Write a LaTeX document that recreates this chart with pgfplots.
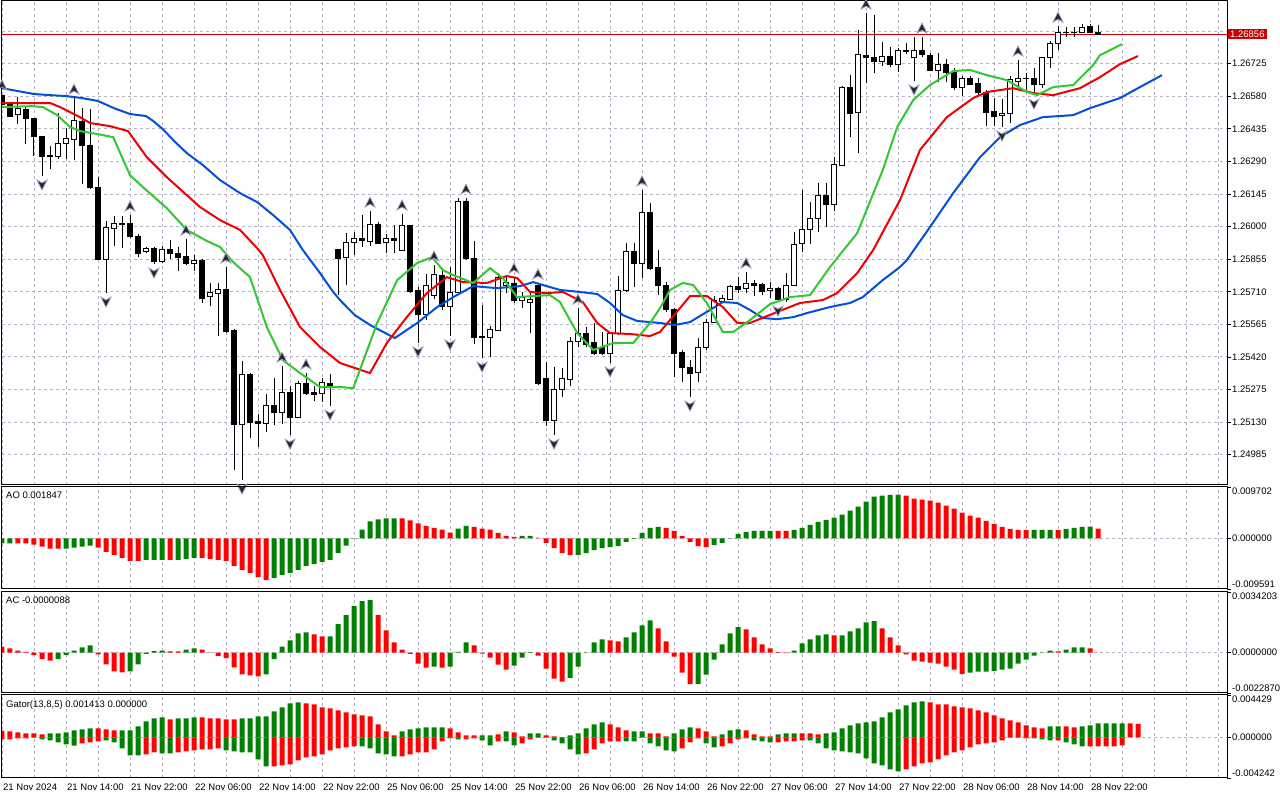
\documentclass[border=0pt]{standalone}
\usepackage{pgfplots}
\usepackage{pgfplotstable}
\pgfplotsset{compat=1.18}
\usepackage{fontspec}
\setmainfont{Liberation Sans}
\definecolor{aogreen}{RGB}{0,128,0}
\definecolor{aored}{RGB}{255,0,0}
\definecolor{jaw}{RGB}{0,80,220}
\definecolor{teeth}{RGB}{240,0,0}
\definecolor{lips}{RGB}{50,200,50}
\definecolor{gridc}{RGB}{188,178,198}
\definecolor{boxred}{RGB}{204,0,0}
\newcommand{\lbl}{\fontsize{9.5}{11}\selectfont}
\pgfdeclareplotmark{fracup}{%
 \pgfpathmoveto{\pgfqpoint{0pt}{5.5pt}}%
 \pgfpathlineto{\pgfqpoint{5pt}{-4.5pt}}%
 \pgfpathlineto{\pgfqpoint{0pt}{-1.5pt}}%
 \pgfpathlineto{\pgfqpoint{-5pt}{-4.5pt}}%
 \pgfpathclose\pgfusepathqfillstroke}
\pgfdeclareplotmark{fracdown}{%
 \pgfpathmoveto{\pgfqpoint{0pt}{-5.5pt}}%
 \pgfpathlineto{\pgfqpoint{5pt}{4.5pt}}%
 \pgfpathlineto{\pgfqpoint{0pt}{1.5pt}}%
 \pgfpathlineto{\pgfqpoint{-5pt}{4.5pt}}%
 \pgfpathclose\pgfusepathqfillstroke}
\pgfplotsset{
 mt/.style={scale only axis, width=1225pt, xmin=0, xmax=153.125,
  axis line style={line width=1pt, black},
  xtick={0,8,...,152}, minor x tick num=1, xmajorgrids, xminorgrids, ymajorgrids,
  major grid style={gridc, dash pattern=on 3pt off 3pt, line width=0.9pt},
  minor grid style={gridc, dash pattern=on 3pt off 3pt, line width=0.9pt},
  minor tick length=0pt, major tick length=4pt, tick align=outside,
  xtick pos=left, ytick pos=right, yticklabel pos=right,
  xtick style={draw=none}, ytick style={black, line width=0.8pt},
  xticklabels={},
  yticklabel style={font=\lbl, anchor=west, inner sep=1pt},
  xticklabel style={font=\lbl, anchor=north west, inner sep=1pt, yshift=-1pt},
  scaled y ticks=false, anchor=south west},
 hist/.style={ybar, bar width=5pt, bar shift=0pt, draw=none, forget plot},
}
\pgfplotstableread{
i o h l c
0 1.26585 1.26590 1.26536 1.26545
1 1.26545 1.26554 1.26487 1.26492
2 1.26501 1.26576 1.26456 1.26527
3 1.26523 1.26532 1.26367 1.26483
4 1.26483 1.26483 1.26314 1.26403
5 1.26403 1.26403 1.26225 1.26314
6 1.26318 1.26358 1.26256 1.26314
7 1.26314 1.26505 1.26300 1.26372
8 1.26372 1.26438 1.26300 1.26394
9 1.26389 1.26572 1.26296 1.26474
10 1.26470 1.26527 1.26189 1.26363
11 1.26363 1.26523 1.26167 1.26176
12 1.26176 1.26220 1.25851 1.25855
13 1.25855 1.26025 1.25704 1.25998
14 1.25993 1.26047 1.25913 1.26016
15 1.26016 1.26047 1.25904 1.26011
16 1.26016 1.26051 1.25949 1.25958
17 1.25958 1.25967 1.25864 1.25882
18 1.25891 1.25909 1.25882 1.25904
19 1.25904 1.25909 1.25833 1.25847
20 1.25847 1.25913 1.25838 1.25900
21 1.25900 1.25940 1.25855 1.25882
22 1.25882 1.25909 1.25802 1.25864
23 1.25869 1.25944 1.25829 1.25838
24 1.25838 1.25873 1.25802 1.25851
25 1.25851 1.25855 1.25660 1.25682
26 1.25691 1.25749 1.25646 1.25709
27 1.25704 1.25749 1.25513 1.25722
28 1.25722 1.25820 1.25526 1.25535
29 1.25540 1.25544 1.24917 1.25121
30 1.25121 1.25402 1.24872 1.25344
31 1.25344 1.25348 1.25059 1.25130
32 1.25135 1.25166 1.25019 1.25126
33 1.25126 1.25255 1.25086 1.25206
34 1.25206 1.25326 1.25117 1.25175
35 1.25175 1.25379 1.25121 1.25264
36 1.25264 1.25290 1.25072 1.25152
37 1.25152 1.25313 1.25148 1.25304
38 1.25304 1.25348 1.25250 1.25259
39 1.25264 1.25290 1.25224 1.25255
40 1.25259 1.25326 1.25219 1.25308
41 1.25304 1.25344 1.25201 1.25295
42 1.25900 1.25900 1.25695 1.25860
43 1.25864 1.25971 1.25740 1.25931
44 1.25931 1.25976 1.25873 1.25949
45 1.25949 1.26051 1.25909 1.25940
46 1.25936 1.26069 1.25913 1.26011
47 1.26011 1.26020 1.25927 1.25927
48 1.25931 1.25967 1.25882 1.25949
49 1.25949 1.26007 1.25882 1.25940
50 1.25896 1.26056 1.25896 1.26007
51 1.26007 1.26007 1.25704 1.25713
52 1.25718 1.25731 1.25482 1.25611
53 1.25611 1.25789 1.25584 1.25740
54 1.25695 1.25829 1.25677 1.25789
55 1.25784 1.25807 1.25629 1.25646
56 1.25646 1.25820 1.25513 1.25709
57 1.25709 1.26127 1.25709 1.26114
58 1.26114 1.26127 1.25851 1.25860
59 1.25860 1.25936 1.25477 1.25508
60 1.25513 1.25651 1.25415 1.25508
61 1.25508 1.25557 1.25419 1.25544
62 1.25540 1.25793 1.25535 1.25775
63 1.25740 1.25784 1.25704 1.25753
64 1.25749 1.25775 1.25660 1.25673
65 1.25673 1.25709 1.25637 1.25686
66 1.25664 1.25709 1.25526 1.25677
67 1.25740 1.25749 1.25295 1.25304
68 1.25326 1.25397 1.25112 1.25139
69 1.25139 1.25375 1.25072 1.25273
70 1.25273 1.25370 1.25241 1.25326
71 1.25321 1.25508 1.25290 1.25491
72 1.25491 1.25637 1.25464 1.25526
73 1.25526 1.25553 1.25464 1.25477
74 1.25486 1.25571 1.25428 1.25437
75 1.25464 1.25531 1.25428 1.25437
76 1.25437 1.25531 1.25393 1.25526
77 1.25526 1.25780 1.25517 1.25718
78 1.25718 1.25927 1.25709 1.25891
79 1.25891 1.25927 1.25731 1.25838
80 1.25838 1.26163 1.25771 1.26065
81 1.26065 1.26105 1.25807 1.25815
82 1.25820 1.25896 1.25695 1.25740
83 1.25740 1.25753 1.25620 1.25633
84 1.25633 1.25637 1.25330 1.25437
85 1.25442 1.25451 1.25308 1.25375
86 1.25375 1.25406 1.25241 1.25348
87 1.25353 1.25504 1.25308 1.25464
88 1.25464 1.25588 1.25451 1.25575
89 1.25575 1.25691 1.25571 1.25673
90 1.25669 1.25695 1.25664 1.25682
91 1.25677 1.25740 1.25673 1.25735
92 1.25735 1.25775 1.25704 1.25722
93 1.25726 1.25798 1.25704 1.25749
94 1.25749 1.25762 1.25691 1.25740
95 1.25744 1.25749 1.25695 1.25713
96 1.25718 1.25753 1.25682 1.25726
97 1.25726 1.25731 1.25664 1.25677
98 1.25677 1.25793 1.25664 1.25740
99 1.25740 1.25976 1.25735 1.25922
100 1.25927 1.26163 1.25887 1.25989
101 1.25989 1.26109 1.25922 1.26038
102 1.26038 1.26194 1.25976 1.26140
103 1.26140 1.26194 1.25998 1.26100
104 1.26100 1.26309 1.26069 1.26278
105 1.26274 1.26625 1.26269 1.26621
106 1.26621 1.26674 1.26398 1.26505
107 1.26510 1.26875 1.26327 1.26768
108 1.26763 1.26950 1.26639 1.26754
109 1.26754 1.26941 1.26683 1.26737
110 1.26737 1.26821 1.26714 1.26759
111 1.26759 1.26799 1.26710 1.26723
112 1.26723 1.26794 1.26688 1.26786
113 1.26786 1.26817 1.26768 1.26781
114 1.26754 1.26843 1.26648 1.26786
115 1.26786 1.26843 1.26754 1.26768
116 1.26763 1.26772 1.26692 1.26697
117 1.26697 1.26772 1.26643 1.26723
118 1.26723 1.26745 1.26643 1.26688
119 1.26688 1.26705 1.26608 1.26621
120 1.26621 1.26670 1.26581 1.26661
121 1.26661 1.26670 1.26630 1.26634
122 1.26639 1.26661 1.26576 1.26599
123 1.26599 1.26608 1.26447 1.26510
124 1.26514 1.26572 1.26447 1.26492
125 1.26496 1.26567 1.26443 1.26505
126 1.26505 1.26670 1.26461 1.26656
127 1.26648 1.26741 1.26621 1.26661
128 1.26661 1.26683 1.26608 1.26659
129 1.26661 1.26705 1.26585 1.26634
130 1.26634 1.26754 1.26616 1.26754
131 1.26754 1.26826 1.26705 1.26817
132 1.26817 1.26892 1.26786 1.26866
133 1.26866 1.26888 1.26843 1.26863
134 1.26862 1.26888 1.26843 1.26866
135 1.26866 1.26901 1.26861 1.26888
136 1.26892 1.26901 1.26861 1.26866
137 1.26866 1.26897 1.26852 1.26856
}\candles
\begin{document}
\begin{tikzpicture}
\fill[white] (0,0) rectangle (1280pt,800pt);
\path[use as bounding box] (0,0) rectangle (1280pt,800pt);
% ---------------- main price panel
\begin{axis}[mt, name=main, at={(2pt,315pt)}, height=484pt,
  ymin=1.24850, ymax=1.27004,
  ytick={1.24985,1.25130,1.25275,1.25420,1.25565,1.25710,1.25855,1.26000,1.26145,1.26290,1.26435,1.26580,1.26725,1.26870},
  yticklabels={1.24985,1.25130,1.25275,1.25420,1.25565,1.25710,1.25855,1.26000,1.26145,1.26290,1.26435,1.26580,1.26725,{}}]
\addplot[boxred, line width=1pt, forget plot] coordinates {(0,1.26856) (153.125,1.26856)};
\pgfplotsforeachungrouped \k in {0,...,137}{%
  \pgfplotstablegetelem{\k}{o}\of\candles\let\vo\pgfplotsretval
  \pgfplotstablegetelem{\k}{h}\of\candles\let\vh\pgfplotsretval
  \pgfplotstablegetelem{\k}{l}\of\candles\let\vl\pgfplotsretval
  \pgfplotstablegetelem{\k}{c}\of\candles\let\vc\pgfplotsretval
  \ifdim\vc pt>\vo pt \def\bodyfill{white}\else\def\bodyfill{black}\fi
  \edef\temp{\noexpand\draw[black, line width=1pt] (axis cs:\k,\vl) -- (axis cs:\k,\vh);
    \noexpand\draw[black, line width=0.9pt, fill=\bodyfill] ([xshift=-2.7pt]axis cs:\k,\vo) rectangle ([xshift=2.7pt]axis cs:\k,\vc);}%
  \temp
}
\addplot[jaw, line width=2pt] coordinates {
(0,1.26616)(2,1.26603)(4,1.26590)(6,1.26585)(8,1.26581)(10,1.26572)(12,1.26559)(14,1.26527)(16,1.26501)(18,1.26492)(18.9,1.26470)(20.1,1.26434)(21.4,1.26385)(23.1,1.26327)(25.1,1.26274)(27.25,1.26207)(29.75,1.26149)(31.9,1.26109)(33.9,1.26051)(36,1.25985)(37.6,1.25896)(39.75,1.25793)(41.4,1.25709)(42.25,1.25673)(44.1,1.25606)(46,1.25562)(49.1,1.25504)(51.9,1.25571)(54.4,1.25642)(56.4,1.25686)(58.9,1.25735)(61.9,1.25726)(63.5,1.25731)(64.75,1.25735)(66.4,1.25753)(67.6,1.25740)(69.75,1.25718)(72.25,1.25709)(74.4,1.25700)(76,1.25660)(77.6,1.25606)(79.4,1.25580)(82.25,1.25571)(84.1,1.25562)(86,1.25575)(88.5,1.25629)(90.1,1.25664)(91.9,1.25660)(93.5,1.25629)(95.1,1.25593)(96.9,1.25588)(98.9,1.25597)(100.6,1.25615)(103.5,1.25642)(106,1.25660)(107.6,1.25686)(110.1,1.25762)(112.25,1.25820)(113.1,1.25851)(116,1.25998)(118.9,1.26149)(122.25,1.26309)(124.75,1.26398)(127.25,1.26452)(130.1,1.26487)(133.9,1.26496)(136,1.26527)(139.75,1.26572)(142.25,1.26621)(145,1.26674)};
\addplot[teeth, line width=2pt] coordinates {
(0,1.26550)(6,1.26550)(7.25,1.26532)(9.75,1.26487)(11,1.26461)(13.5,1.26447)(15.75,1.26425)(18.1,1.26309)(20.6,1.26220)(24.75,1.26087)(27.25,1.26029)(29.75,1.25985)(31.9,1.25904)(32.6,1.25873)(34.75,1.25718)(37.25,1.25553)(39.75,1.25464)(42.25,1.25393)(46,1.25348)(48.1,1.25482)(50.6,1.25597)(53.1,1.25704)(55.6,1.25775)(57.6,1.25753)(60.6,1.25749)(63.1,1.25780)(64.4,1.25771)(66,1.25709)(68.1,1.25704)(70.1,1.25709)(72.6,1.25664)(74.4,1.25571)(76,1.25526)(78.5,1.25522)(81,1.25513)(82.25,1.25531)(83.5,1.25584)(86,1.25691)(88.1,1.25691)(90.1,1.25642)(91.9,1.25571)(93.5,1.25571)(96.9,1.25620)(99.75,1.25660)(102.6,1.25673)(104.4,1.25704)(106.9,1.25793)(108.9,1.25896)(112.25,1.26118)(114.75,1.26341)(118.1,1.26487)(121.4,1.26572)(123.1,1.26599)(126.4,1.26616)(128.9,1.26594)(131.4,1.26585)(134.75,1.26616)(137.25,1.26665)(139.75,1.26723)(142,1.26759)};
\addplot[lips, line width=2pt] coordinates {
(0,1.26532)(3.75,1.26536)(5.1,1.26532)(6.9,1.26496)(8.5,1.26443)(9.75,1.26425)(11.9,1.26412)(13.9,1.26398)(16,1.26229)(17.6,1.26176)(20.6,1.26082)(23.1,1.25985)(25.6,1.25936)(27.25,1.25909)(28.9,1.25842)(31,1.25775)(33.1,1.25553)(35.1,1.25406)(37.25,1.25348)(39.75,1.25286)(42.25,1.25286)(43.9,1.25281)(46.9,1.25571)(49.4,1.25762)(51.9,1.25838)(53.75,1.25864)(55.1,1.25807)(56.4,1.25784)(58.9,1.25749)(61,1.25815)(62.6,1.25771)(64.4,1.25686)(66.4,1.25691)(68.5,1.25695)(69.75,1.25664)(71.9,1.25526)(73.9,1.25451)(76.4,1.25482)(78.9,1.25482)(81,1.25571)(82.25,1.25637)(83.5,1.25718)(85.1,1.25749)(86.4,1.25740)(88.1,1.25660)(90.1,1.25531)(91.4,1.25531)(93.5,1.25584)(96,1.25655)(98.5,1.25686)(101,1.25695)(103.5,1.25820)(106.9,1.25971)(110.1,1.26252)(111.9,1.26443)(113.9,1.26563)(116,1.26630)(118.9,1.26692)(121,1.26697)(123.1,1.26674)(125.6,1.26652)(128.1,1.26599)(129.4,1.26585)(131.4,1.26621)(133.9,1.26630)(136.4,1.26719)(137.25,1.26763)(140,1.26812)};
\addplot[only marks, mark=fracup, mark options={fill=black!85, draw=blue!30!gray!60, line width=0.7pt, yshift=8.5pt}] coordinates {
(0,1.26590)(9,1.26572)(16,1.26051)(23,1.25944)(28,1.25820)(35,1.25379)(38,1.25348)(46,1.26069)(50,1.26056)(54,1.25829)(58,1.26127)(64,1.25775)(67,1.25749)(72,1.25637)(80,1.26163)(93,1.25798)(108,1.26950)(115,1.26843)(127,1.26741)(132,1.26892)};
\addplot[only marks, mark=fracdown, mark options={fill=black!85, draw=blue!30!gray!60, line width=0.7pt, yshift=-8.5pt}] coordinates {
(5,1.26225)(13,1.25704)(19,1.25833)(30,1.24872)(36,1.25072)(41,1.25201)(52,1.25482)(56,1.25513)(60,1.25415)(69,1.25072)(76,1.25393)(86,1.25241)(97,1.25664)(114,1.26648)(125,1.26443)(129,1.26585)};
\coordinate (pl) at (axis cs:153.125,1.26856);
\end{axis}
\node[fill=boxred, text=white, font=\lbl, inner xsep=2pt, inner ysep=1.5pt, anchor=west] at ([xshift=1pt]pl) {1.26856};
% ---------------- AO
\begin{axis}[mt, name=ao, at={(2pt,211pt)}, height=102pt,
  ymin=-0.009591, ymax=0.009702, ytick={0}, yticklabels={0.000000},
  extra y ticks={-0.009591,0.009702}, extra y tick labels={}, extra tick style={grid=none}]
\addplot[hist, fill=aogreen] coordinates {
(0,-0.00096)(1,-0.00096)(8,-0.00197)(9,-0.00178)(10,-0.00159)(11,-0.00140)(18,-0.00408)(19,-0.00408)(20,-0.00408)(22,-0.00408)(23,-0.00389)(24,-0.00369)(34,-0.00752)(35,-0.00694)(36,-0.00656)(37,-0.00599)(38,-0.00522)(39,-0.00484)(40,-0.00446)(41,-0.00408)(42,-0.00274)(43,-0.00140)(44,-0.00006)(45,0.00166)(46,0.00319)(47,0.00357)(48,0.00376)(49,0.00376)(57,0.00185)(58,0.00236)(65,0.00045)(66,0.00045)(72,-0.00319)(73,-0.00280)(74,-0.00223)(75,-0.00185)(76,-0.00166)(77,-0.00147)(78,-0.00070)(79,-0.00013)(80,0.00102)(81,0.00197)(82,0.00217)(89,-0.00127)(90,-0.00089)(91,0.00003)(92,0.00083)(93,0.00121)(94,0.00140)(95,0.00140)(96,0.00140)(99,0.00159)(100,0.00197)(101,0.00255)(102,0.00312)(103,0.00350)(104,0.00389)(105,0.00446)(106,0.00522)(107,0.00599)(108,0.00694)(109,0.00790)(110,0.00809)(111,0.00822)(112,0.00828)(129,0.00159)(130,0.00159)(131,0.00159)(133,0.00178)(134,0.00197)(135,0.00217)(136,0.00219)};
\addplot[hist, fill=aored] coordinates {
(2,-0.00096)(3,-0.00096)(4,-0.00121)(5,-0.00159)(6,-0.00197)(7,-0.00197)(12,-0.00178)(13,-0.00255)(14,-0.00312)(15,-0.00369)(16,-0.00427)(17,-0.00427)(21,-0.00408)(25,-0.00369)(26,-0.00389)(27,-0.00408)(28,-0.00427)(29,-0.00522)(30,-0.00599)(31,-0.00656)(32,-0.00733)(33,-0.00790)(50,0.00376)(51,0.00338)(52,0.00280)(53,0.00236)(54,0.00197)(55,0.00166)(56,0.00108)(59,0.00217)(60,0.00185)(61,0.00166)(62,0.00102)(63,0.00045)(64,0.00025)(67,0.00006)(68,-0.00089)(69,-0.00185)(70,-0.00280)(71,-0.00319)(83,0.00197)(84,0.00140)(85,0.00045)(86,-0.00070)(87,-0.00147)(88,-0.00166)(97,0.00140)(98,0.00140)(113,0.00809)(114,0.00752)(115,0.00733)(116,0.00713)(117,0.00675)(118,0.00618)(119,0.00561)(120,0.00484)(121,0.00427)(122,0.00389)(123,0.00331)(124,0.00274)(125,0.00217)(126,0.00178)(127,0.00159)(128,0.00155)(132,0.00155)(137,0.001847)};
\node[anchor=north west, font=\lbl, inner sep=0pt, xshift=4pt, yshift=-5pt] at (rel axis cs:0,1) {AO 0.001847};
\end{axis}
\node[anchor=north west, font=\lbl, inner sep=0pt] at ([xshift=5pt,yshift=-1pt]ao.north east) {0.009702};
\node[anchor=south west, font=\lbl, inner sep=0pt] at ([xshift=5pt,yshift=1pt]ao.south east) {-0.009591};
% ---------------- AC
\begin{axis}[mt, name=ac, at={(2pt,107pt)}, height=101pt,
  ymin=-0.0022870, ymax=0.0034203, ytick={0}, yticklabels={0.0000000},
  extra y ticks={-0.0022870,0.0034203}, extra y tick labels={}, extra tick style={grid=none}]
\addplot[hist, fill=aogreen] coordinates {
(7,-0.00038)(8,-0.00015)(9,0.00011)(10,0.00029)(11,0.00040)(16,-0.00106)(17,-0.00067)(18,-0.00008)(19,0.00008)(20,0.00011)(23,0.00017)(24,0.00023)(33,-0.00124)(34,-0.00038)(35,0.00034)(36,0.00068)(37,0.00108)(38,0.00114)(41,0.00091)(42,0.00160)(43,0.00211)(44,0.00262)(45,0.00291)(46,0.00296)(54,-0.00080)(56,-0.00080)(57,0.00004)(58,0.00057)(64,-0.00074)(65,-0.00029)(66,0.00002)(71,-0.00143)(72,-0.00080)(73,0.00001)(74,0.00057)(75,0.00074)(78,0.00086)(79,0.00114)(80,0.00154)(81,0.00182)(87,-0.00177)(88,-0.00125)(89,-0.00040)(90,0.00046)(91,0.00108)(92,0.00143)(99,0.00011)(100,0.00051)(101,0.00074)(102,0.00097)(103,0.00103)(105,0.00097)(106,0.00120)(107,0.00137)(108,0.00171)(109,0.00177)(121,-0.00114)(122,-0.00108)(123,-0.00108)(124,-0.00103)(125,-0.00097)(126,-0.00091)(127,-0.00063)(128,-0.00040)(129,-0.00017)(130,-0.00002)(131,0.00011)(133,0.00017)(134,0.00029)(135,0.00029)};
\addplot[hist, fill=aored] coordinates {
(0,0.00034)(1,0.00023)(2,0.00011)(3,0.00004)(4,-0.00015)(5,-0.00038)(6,-0.00046)(12,-0.00011)(13,-0.00067)(14,-0.00106)(15,-0.00112)(21,0.00006)(22,0.00006)(25,0.00017)(26,-0.00002)(27,-0.00021)(28,-0.00032)(29,-0.00084)(30,-0.00124)(31,-0.00129)(32,-0.00135)(39,0.00103)(40,0.00091)(47,0.00211)(48,0.00125)(49,0.00057)(50,0.00017)(51,-0.00008)(52,-0.00063)(53,-0.00086)(55,-0.00086)(59,0.00040)(60,-0.00006)(61,-0.00029)(62,-0.00068)(63,-0.00097)(67,-0.00017)(68,-0.00091)(69,-0.00148)(70,-0.00165)(76,0.00068)(77,0.00063)(82,0.00137)(83,0.00063)(84,-0.00023)(85,-0.00114)(86,-0.00177)(93,0.00131)(94,0.00086)(95,0.00046)(96,0.00023)(97,0.00002)(98,-0.00004)(104,0.00097)(110,0.00137)(111,0.00086)(112,0.00040)(113,-0.00010)(114,-0.00046)(115,-0.00051)(116,-0.00057)(117,-0.00063)(118,-0.00080)(119,-0.00097)(120,-0.00120)(132,0.00006)(136,0.00023)(137,-0.0000088)};
\node[anchor=north west, font=\lbl, inner sep=0pt, xshift=4pt, yshift=-5pt] at (rel axis cs:0,1) {AC -0.0000088};
\end{axis}
\node[anchor=north west, font=\lbl, inner sep=0pt] at ([xshift=5pt,yshift=-1pt]ac.north east) {0.0034203};
\node[anchor=south west, font=\lbl, inner sep=0pt] at ([xshift=5pt,yshift=1pt]ac.south east) {-0.0022870};
% ---------------- Gator
\begin{axis}[mt, name=gator, at={(2pt,22pt)}, height=83pt,
  ymin=-0.004242, ymax=0.004429, ytick={0}, yticklabels={0.000000},
  extra y ticks={-0.004242,0.004429}, extra y tick labels={}, extra tick style={grid=none},
  xtick style={black, line width=0.8pt},
  xticklabels={21 Nov 2024,21 Nov 14:00,21 Nov 22:00,22 Nov 06:00,22 Nov 14:00,22 Nov 22:00,25 Nov 06:00,25 Nov 14:00,25 Nov 22:00,26 Nov 06:00,26 Nov 14:00,26 Nov 22:00,27 Nov 06:00,27 Nov 14:00,27 Nov 22:00,28 Nov 06:00,28 Nov 14:00,28 Nov 22:00,{},{}}]
\addplot[hist, fill=aogreen] coordinates {
(6,0.00042)(7,0.00042)(8,0.00052)(9,0.00073)(10,0.00084)(11,0.00094)(15,0.00073)(16,0.00073)(17,0.00115)(18,0.00167)(19,0.00198)(20,0.00209)(22,0.00198)(23,0.00198)(24,0.00209)(30,0.00198)(31,0.00198)(32,0.00219)(33,0.00219)(34,0.00271)(35,0.00313)(36,0.00355)(37,0.00365)(50,0.00063)(51,0.00084)(52,0.00094)(53,0.00104)(54,0.00104)(55,0.00104)(60,0.00021)(61,0.00021)(63,0.00063)(66,0.00042)(67,0.00042)(70,0.00003)(71,0.00021)(72,0.00042)(73,0.00094)(74,0.00136)(75,0.00157)(79,0.00063)(80,0.00063)(84,0.00042)(85,0.00084)(86,0.00104)(90,0.00031)(91,0.00073)(92,0.00084)(97,0.00031)(98,0.00042)(99,0.00042)(103,0.00042)(104,0.00052)(105,0.00094)(106,0.00125)(107,0.00146)(108,0.00157)(109,0.00167)(110,0.00209)(111,0.00261)(112,0.00292)(113,0.00334)(114,0.00365)(115,0.00376)(131,0.00115)(132,0.00115)(135,0.00115)(136,0.00125)(137,0.00146)(138,0.00146)(139,0.00146)(140,0.00146)};
\addplot[hist, fill=aored] coordinates {
(0,0.00070)(1,0.00063)(2,0.00052)(3,0.00042)(4,0.00042)(5,0.00031)(12,0.00094)(13,0.00084)(14,0.00073)(21,0.00188)(25,0.00209)(26,0.00198)(27,0.00198)(28,0.00188)(29,0.00188)(38,0.00355)(39,0.00345)(40,0.00313)(41,0.00303)(42,0.00282)(43,0.00261)(44,0.00240)(45,0.00230)(46,0.00219)(47,0.00136)(48,0.00063)(49,0.00021)(56,0.00094)(57,0.00052)(58,0.00021)(59,0.00021)(62,0.00031)(64,0.00052)(65,0.00010)(68,0.00021)(69,0.00010)(76,0.00136)(77,0.00104)(78,0.00073)(81,0.00042)(82,0.00042)(83,0.00010)(87,0.00094)(88,0.00063)(89,0.00010)(93,0.00073)(94,0.00031)(95,0.00010)(96,0.00010)(100,0.00042)(101,0.00042)(102,0.00031)(116,0.00365)(117,0.00345)(118,0.00345)(119,0.00324)(120,0.00313)(121,0.00303)(122,0.00282)(123,0.00261)(124,0.00230)(125,0.00198)(126,0.00177)(127,0.00157)(128,0.00125)(129,0.00104)(130,0.00094)(133,0.00115)(134,0.00104)(141,0.00146)(142,0.001413)};
\addplot[hist, fill=aogreen] coordinates {
(5,-0.00021)(6,-0.00031)(7,-0.00052)(8,-0.00073)(9,-0.00087)(13,-0.00031)(14,-0.00052)(15,-0.00115)(16,-0.00188)(17,-0.00188)(20,-0.00167)(21,-0.00167)(28,-0.00136)(29,-0.00146)(30,-0.00157)(31,-0.00157)(32,-0.00230)(33,-0.00303)(45,-0.00094)(46,-0.00115)(47,-0.00167)(48,-0.00177)(49,-0.00198)(56,-0.00010)(57,-0.00021)(60,-0.00031)(61,-0.00084)(63,-0.00042)(64,-0.00084)(67,-0.00003)(69,-0.00031)(70,-0.00063)(71,-0.00125)(72,-0.00177)(78,-0.00042)(79,-0.00042)(81,-0.00063)(82,-0.00094)(83,-0.00136)(84,-0.00146)(88,-0.00063)(89,-0.00104)(93,-0.00010)(94,-0.00031)(95,-0.00042)(96,-0.00052)(101,-0.00031)(102,-0.00063)(103,-0.00115)(104,-0.00136)(105,-0.00146)(106,-0.00157)(107,-0.00167)(108,-0.00219)(109,-0.00271)(110,-0.00292)(111,-0.00334)(112,-0.00355)(127,-0.00003)(129,-0.00010)(130,-0.00021)(131,-0.00031)(133,-0.00052)(134,-0.00073)(135,-0.00094)};
\addplot[hist, fill=aored] coordinates {
(0,-0.00021)(1,-0.00021)(2,-0.00010)(3,-0.00010)(4,-0.00003)(10,-0.00063)(11,-0.00052)(12,-0.00042)(18,-0.00177)(19,-0.00157)(22,-0.00157)(23,-0.00146)(24,-0.00136)(25,-0.00125)(26,-0.00125)(27,-0.00115)(34,-0.00303)(35,-0.00292)(36,-0.00282)(37,-0.00240)(38,-0.00209)(39,-0.00198)(40,-0.00177)(41,-0.00136)(42,-0.00115)(43,-0.00104)(44,-0.00094)(50,-0.00198)(51,-0.00177)(52,-0.00157)(53,-0.00157)(54,-0.00125)(55,-0.00042)(58,-0.00021)(59,-0.00010)(62,-0.00042)(65,-0.00063)(66,-0.00021)(68,-0.00003)(73,-0.00167)(74,-0.00125)(75,-0.00063)(76,-0.00042)(77,-0.00042)(80,-0.00003)(85,-0.00115)(86,-0.00052)(87,-0.00010)(90,-0.00094)(91,-0.00063)(92,-0.00021)(97,-0.00052)(98,-0.00042)(99,-0.00042)(100,-0.00031)(113,-0.00334)(114,-0.00303)(115,-0.00271)(116,-0.00261)(117,-0.00230)(118,-0.00188)(119,-0.00157)(120,-0.00136)(121,-0.00104)(122,-0.00073)(123,-0.00063)(124,-0.00052)(125,-0.00031)(126,-0.00003)(128,-0.00010)(132,-0.00031)(136,-0.00094)(137,-0.00094)(138,-0.00094)(139,-0.00094)(140,-0.00084)};
\node[anchor=north west, font=\lbl, inner sep=0pt, xshift=4pt, yshift=-5pt] at (rel axis cs:0,1) {Gator(13,8,5) 0.001413 0.000000};
\end{axis}
\node[anchor=north west, font=\lbl, inner sep=0pt] at ([xshift=5pt,yshift=-1pt]gator.north east) {0.004429};
\node[anchor=south west, font=\lbl, inner sep=0pt] at ([xshift=5pt,yshift=1pt]gator.south east) {-0.004242};
\end{tikzpicture}
\end{document}
